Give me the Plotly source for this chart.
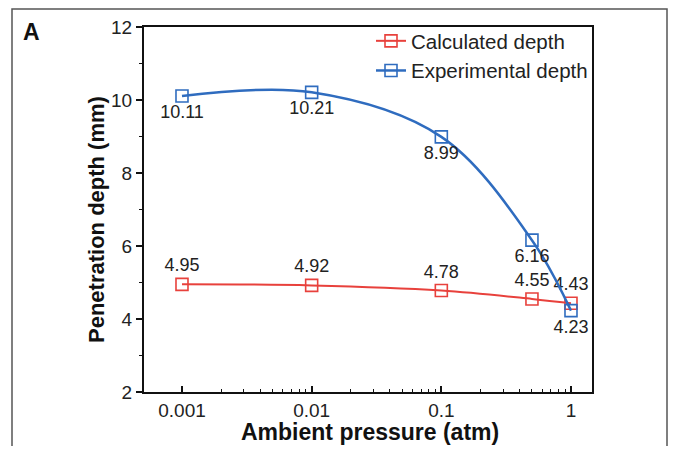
import plotly.graph_objects as go

pressure = [0.001, 0.01, 0.1, 0.5, 1]
calculated = [4.95, 4.92, 4.78, 4.55, 4.43]
experimental = [10.11, 10.21, 8.99, 6.16, 4.23]
x_tick_vals = [0.001, 0.01, 0.1, 1]
x_tick_text = ["0.001", "0.01", "0.1", "1"]

RED = "#e8413c"
BLUE = "#2f6cbf"
FONT = "Liberation Sans, Arial, sans-serif"

# page body has an 8px margin; keep the figure inside the viewport (no scrollbars)
OFF = 8
W, H = 660, 438
PL, PR, PT, PB = 144 - OFF, 592 - OFF, 27 - OFF, 392 - OFF  # plot area in div px
PW, PH = PR - PL, PB - PT


def px_x(x):
    return (x - OFF - PL) / PW


def px_y(y):
    return (PB - (y - OFF)) / PH


fig = go.Figure()
fig.add_trace(go.Scatter(
    x=pressure, y=calculated, name="Calculated depth",
    mode="lines+markers+text",
    line=dict(color=RED, width=2, shape="spline", smoothing=1),
    marker=dict(symbol="square-open", size=12, color=RED, line=dict(width=1.6)),
    text=[f"{v:.2f}" for v in calculated], textposition="top center",
    textfont=dict(size=18, color="#222", family=FONT),
))
fig.add_trace(go.Scatter(
    x=pressure, y=experimental, name="Experimental depth",
    mode="lines+markers+text",
    line=dict(color=BLUE, width=2.5, shape="spline", smoothing=1),
    marker=dict(symbol="square-open", size=12, color=BLUE, line=dict(width=1.6)),
    text=[f"{v:.2f}" for v in experimental], textposition="bottom center",
    textfont=dict(size=18, color="#222", family=FONT),
))

minor_x = [m * 10 ** e for e in (-3, -2, -1) for m in range(2, 10)]

fig.update_layout(
    width=W, height=H,
    margin=dict(l=PL, r=W - PR, t=PT, b=H - PB, autoexpand=False),
    paper_bgcolor="white", plot_bgcolor="white",
    font=dict(family=FONT, color="#222", size=18),
    showlegend=True,
    legend=dict(x=px_x(371), y=px_y(21), xanchor="left", yanchor="top",
                bgcolor="rgba(0,0,0,0)", font=dict(size=20.5, color="#222"),
                tracegroupgap=0),
    xaxis=dict(
        type="log", range=[-3.293, 0.162],
        tickvals=x_tick_vals, ticktext=x_tick_text,
        ticks="inside", ticklen=6, tickwidth=1.5, tickcolor="#111",
        minor=dict(tickvals=minor_x, ticks="inside", ticklen=3, tickwidth=1, tickcolor="#111", showgrid=False),
        showline=True, linecolor="#111", linewidth=2, mirror=True,
        showgrid=False, zeroline=False, automargin=False,
        tickfont=dict(size=19, color="#222"),
    ),
    yaxis=dict(
        range=[2, 12], dtick=2,
        ticks="outside", ticklen=6, tickwidth=1.5, tickcolor="#111",
        minor=dict(dtick=1, ticks="outside", ticklen=3, tickwidth=1, tickcolor="#111", showgrid=False),
        showline=True, linecolor="#111", linewidth=2, mirror=True,
        showgrid=False, zeroline=False, automargin=False,
        tickfont=dict(size=19, color="#222"),
    ),
)

# axis titles
fig.add_annotation(text="<b>Ambient pressure (atm)</b>", xref="paper", yref="paper",
                   x=px_x(370), y=px_y(OFF + H), xanchor="center", yanchor="bottom",
                   showarrow=False, borderpad=0, font=dict(size=23, color="#111", family=FONT))
fig.add_annotation(text="<b>Penetration depth (mm)</b>", xref="paper", yref="paper",
                   x=px_x(97), y=px_y(220), xanchor="center", yanchor="middle", textangle=-90,
                   showarrow=False, font=dict(size=22, color="#111", family=FONT))

# outer panel frame
fig.add_shape(type="rect", xref="paper", yref="paper",
              x0=px_x(12), x1=px_x(OFF + W - 1), y0=px_y(480), y1=px_y(OFF + 1),
              line=dict(color="#555", width=1.5), fillcolor="rgba(0,0,0,0)", layer="below")
fig.add_annotation(text="<b>A</b>", xref="paper", yref="paper",
                   x=px_x(21), y=px_y(17), xanchor="left", yanchor="top",
                   showarrow=False, font=dict(size=23, color="#111", family=FONT))

fig.write_html("out.html")
